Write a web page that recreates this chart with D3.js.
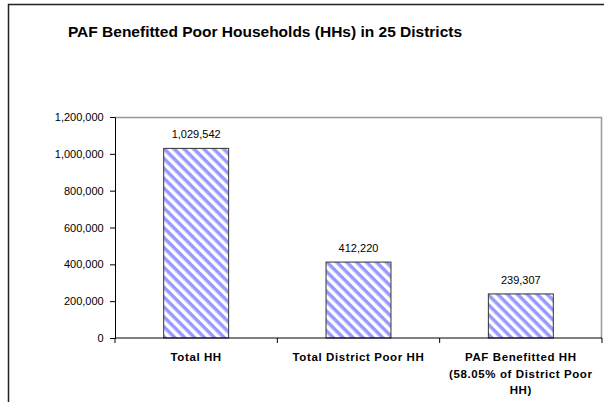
<!DOCTYPE html>
<html>
<head>
<meta charset="utf-8">
<script src="https://cdn.jsdelivr.net/npm/d3@7"></script>
<style>
  body { margin: 0; background: #fff; }
  text { font-family: "Liberation Sans", Arial, sans-serif; }
</style>
</head>
<body>
<div id="chart-container"></div>
<script>
// data
const categories = ["Total HH", "Total District Poor HH", "PAF Benefitted HH (58.05% of District Poor HH)"];
const categoryLines = [["Total HH"], ["Total District Poor HH"], ["PAF Benefitted HH", "(58.05% of District Poor", "HH)"]];
const values = [1029542, 412220, 239307];
const yTicks = [0, 200000, 400000, 600000, 800000, 1000000, 1200000];

const margin = { top: 117, right: 2, bottom: 64, left: 115 };
const width = 604 - margin.left - margin.right;
const height = 402 - margin.top - margin.bottom;

const svg = d3.select("#chart-container")
  .append("svg")
    .attr("width", 604)
    .attr("height", 402);

// stripe pattern
const pat = svg.append("defs").append("pattern")
    .attr("id", "stripes")
    .attr("patternUnits", "userSpaceOnUse")
    .attr("width", 7)
    .attr("height", 7)
    .attr("patternTransform", "rotate(45)");
pat.append("rect").attr("width", 7).attr("height", 7).attr("fill", "#fff");
pat.append("rect").attr("width", 7).attr("height", 3.5).attr("fill", "#9999ff");

// outer frame
svg.append("rect")
    .attr("x", 8.5).attr("y", 4.5)
    .attr("width", 620).attr("height", 420)
    .attr("fill", "none")
    .attr("stroke", "#222")
    .attr("stroke-width", 1.5);

svg.append("text")
    .attr("x", 265)
    .attr("y", 37)
    .attr("text-anchor", "middle")
    .style("font-size", "15.5px")
    .style("font-weight", "bold")
    .text("PAF Benefitted Poor Households (HHs) in 25 Districts");

const g = svg.append("g")
    .attr("transform", `translate(${margin.left},${margin.top})`);

const x = d3.scaleBand()
    .domain(categories)
    .range([0, width])
    .paddingInner(0.6)
    .paddingOuter(0.3);

const y = d3.scaleLinear()
    .domain([0, 1200000])
    .range([height, 0]);

// plot area border (top/right)
g.append("path")
    .attr("d", `M0,0.5H${width - 0.5}V${height}`)
    .attr("fill", "none")
    .attr("stroke", "#999")
    .attr("stroke-width", 1.5);

// bars
g.selectAll(".bar")
  .data(values)
  .join("rect")
    .attr("class", "bar")
    .attr("x", (d, i) => x(categories[i]))
    .attr("y", d => y(d))
    .attr("width", x.bandwidth())
    .attr("height", d => height - y(d))
    .attr("fill", "url(#stripes)")
    .attr("stroke", "#333")
    .attr("stroke-width", 1);

// value labels
g.selectAll(".val")
  .data(values)
  .join("text")
    .attr("class", "val")
    .attr("x", (d, i) => x(categories[i]) + x.bandwidth() / 2)
    .attr("y", d => y(d) - 10)
    .attr("text-anchor", "middle")
    .style("font-size", "11px")
    .text(d3.format(","));

// y-axis
const yAxis = g.append("g")
    .call(d3.axisLeft(y).tickValues(yTicks).tickFormat(d3.format(",")).tickSize(5).tickSizeOuter(0));
yAxis.select(".domain").attr("stroke", "#000");
yAxis.selectAll("text").style("font-size", "11px").style("font-family", "Liberation Sans, Arial, sans-serif").attr("fill", "#000").attr("dx", "-0.3em");

// x-axis with ticks between categories
const xb = g.append("g")
    .attr("transform", `translate(0,${height})`);
xb.append("line")
    .attr("x1", 0).attr("x2", width)
    .attr("stroke", "#000");
const step = width / categories.length;
xb.selectAll(".sep")
  .data(d3.range(categories.length + 1))
  .join("line")
    .attr("class", "sep")
    .attr("x1", d => d * step).attr("x2", d => d * step)
    .attr("y1", 0).attr("y2", 5)
    .attr("stroke", "#000");

xb.selectAll(".cat")
  .data(categoryLines)
  .join("text")
    .attr("class", "cat")
    .attr("text-anchor", "middle")
    .style("font-size", "11.5px")
    .style("font-weight", "bold")
    .style("letter-spacing", "0.6px")
    .attr("transform", (d, i) => `translate(${x(categories[i]) + x.bandwidth() / 2},23)`)
  .selectAll("tspan")
  .data(d => d)
  .join("tspan")
    .attr("x", 0)
    .attr("dy", (d, i) => i === 0 ? 0 : 16.7)
    .text(d => d);
</script>
</body>
</html>
